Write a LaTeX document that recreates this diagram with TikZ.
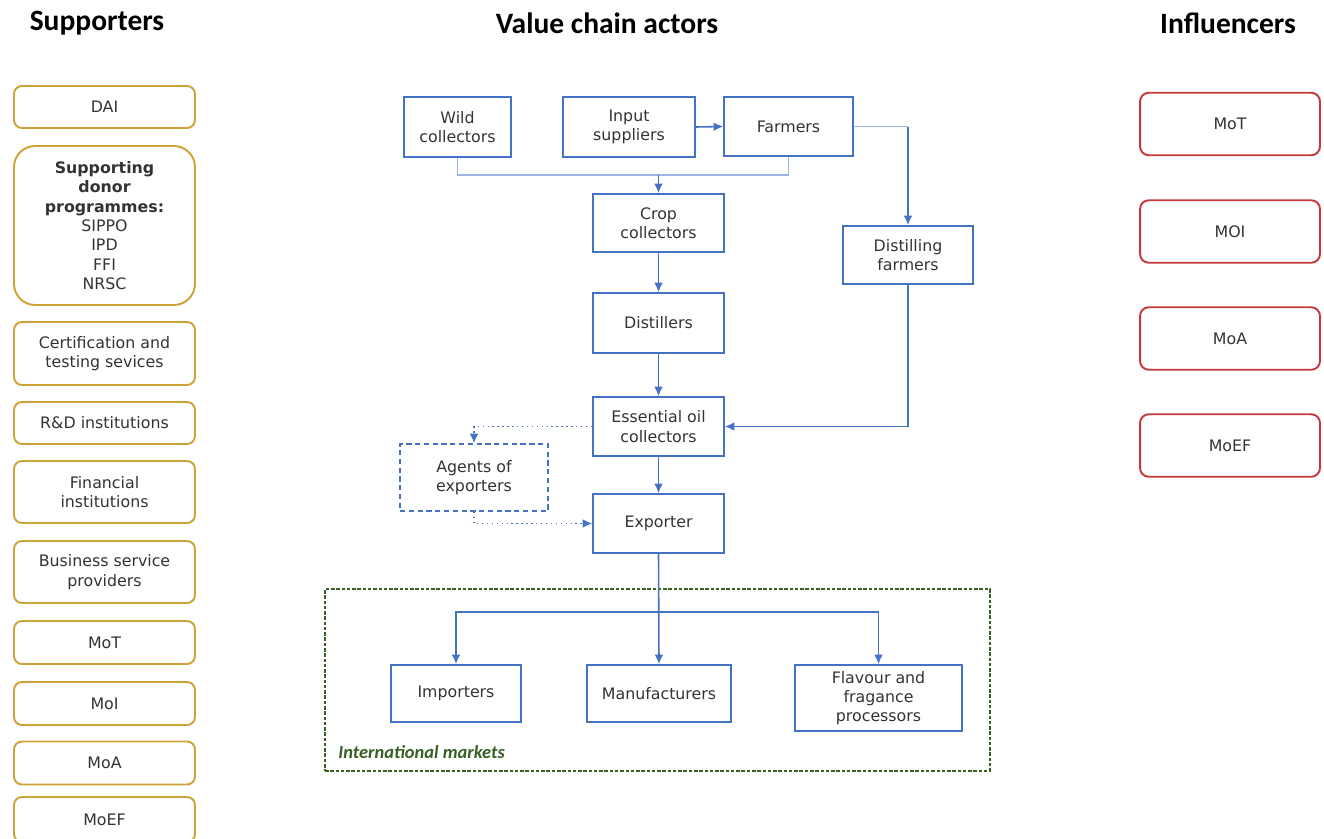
\documentclass[tikz,border=0pt]{standalone}
\usepackage{fontspec}
\setmainfont{DejaVu Sans}
\newfontfamily\headfont{Carlito}
\usepackage{xcolor}
\usepackage{tikz}
\usetikzlibrary{arrows, arrows.meta, positioning}
\definecolor{actorblue}{RGB}{68,114,196}
\definecolor{lightblue}{RGB}{155,181,227}
\definecolor{supgold}{RGB}{204,163,52}
\definecolor{inflred}{RGB}{196,58,60}
\definecolor{marketgreen}{RGB}{56,96,36}
\tikzset{
    titlenode/.style = {draw=none, fill=none, rectangle, inner sep=0em, font=\headfont\bfseries\fontsize{16.8}{20}\selectfont},
    supnode/.style = {draw=supgold, rectangle, rounded corners=0.45em, line width=1.1pt, minimum width=3.62cm, 
      inner sep=0.1cm, align=center, font=\fontsize{9}{11}\selectfont, text=black!80},
    inflnode/.style = {draw=inflred, rectangle, rounded corners=0.5em, line width=1.1pt, minimum width=3.6cm, 
      minimum height=1.25cm, align=center, font=\fontsize{9}{11}\selectfont, text=black!80},
    actornode/.style = {draw=actorblue, rectangle, line width=0.9pt, minimum width=2.62cm, minimum height=1.18cm, 
      inner sep=0.1cm, align=center, font=\fontsize{9}{11}\selectfont, text=black!80},
    agentnode/.style = {actornode, dashed, dash pattern=on 3pt off 2pt},
    marketbox/.style = {draw=marketgreen, rectangle, line width=0.8pt, dash pattern=on 2pt off 1pt, inner sep=0em},
    marketlabel/.style = {draw=none, fill=none, inner sep=0em, text=marketgreen, 
      font=\headfont\bfseries\itshape\fontsize{10.5}{12}\selectfont},
    connect/.style = {actorblue, line width=0.9pt, -{Latex[length=5.5pt, width=5pt]}},
    lightline/.style = {lightblue, line width=0.9pt},
    dotconnect/.style = {actorblue, line width=0.8pt, dotted, -{Latex[length=5.5pt, width=5pt]}}
}

\begin{document}
\begin{tikzpicture}[x=0.02cm, y=-0.02cm]
    \useasboundingbox (0,0) rectangle (1324,838);

    \node [titlenode, name=suptitle] at (97,23) {Supporters};
    \node [titlenode, name=vctitle] at (607,23) {Value chain actors};
    \node [titlenode, name=infltitle] at (1228,23) {Influencers};

    \node [supnode, name=dai, minimum height=0.84cm] at (104.5,107) {DAI};
    \node [supnode, name=donor, minimum height=3.18cm, rounded corners=1.2em] at (104.5,225.5) 
        {\textbf{Supporting}\\ \textbf{donor}\\ \textbf{programmes:}\\ SIPPO\\ IPD\\ FFI\\ NRSC};
    \node [supnode, name=certif, minimum height=1.26cm] at (104.5,353.5) {Certification and\\ testing sevices};
    \node [supnode, name=rnd, minimum height=0.84cm] at (104.5,423) {R\&D institutions};
    \node [supnode, name=financial, minimum height=1.24cm] at (104.5,492) {Financial\\ institutions};
    \node [supnode, name=business, minimum height=1.24cm] at (104.5,572) {Business service\\ providers};
    \node [supnode, name=supmot, minimum height=0.86cm] at (104.5,642.5) {MoT};
    \node [supnode, name=supmoi, minimum height=0.86cm] at (104.5,703.5) {MoI};
    \node [supnode, name=supmoa, minimum height=0.86cm] at (104.5,763) {MoA};
    \node [supnode, name=supmoef, minimum height=0.9cm] at (104.5,819.5) {MoEF};

    \node [inflnode, name=inflmot] at (1230,124) {MoT};
    \node [inflnode, name=inflmoi] at (1230,231.5) {MOI};
    \node [inflnode, name=inflmoa] at (1230,338.5) {MoA};
    \node [inflnode, name=inflmoef] at (1230,445.5) {MoEF};

    \node [marketbox, name=markets, minimum width=13.3cm, minimum height=3.64cm] at (657.5,680) {};
    \node [marketlabel, name=marketstext, anchor=west] at (338,752) {International markets};

    \node [actornode, name=wild, minimum width=2.14cm, minimum height=1.2cm] at (457.5,127) {Wild\\ collectors};
    \node [actornode, name=input, minimum width=2.64cm, minimum height=1.2cm] at (629,127) {Input\\ suppliers};
    \node [actornode, name=farmers, minimum width=2.58cm] at (788.5,126.5) {Farmers};
    \node [actornode, name=crop, minimum height=1.16cm] at (658.5,223) {Crop\\ collectors};
    \node [actornode, name=distil, minimum width=2.6cm, minimum height=1.16cm] at (908,255) {Distilling\\ farmers};
    \node [actornode, name=distillers, minimum height=1.2cm] at (658.5,323) {Distillers};
    \node [actornode, name=eoc] at (658.5,426.5) {Essential oil\\ collectors};
    \node [agentnode, name=agents, minimum width=2.96cm, minimum height=1.34cm] at (474,477.5) {Agents of\\ exporters};
    \node [actornode, name=exporter] at (658.5,523.5) {Exporter};
    \node [actornode, name=importers, minimum width=2.6cm, minimum height=1.14cm] at (456,693.5) {Importers};
    \node [actornode, name=manuf, minimum width=2.88cm, minimum height=1.14cm] at (659,693.5) {Manufacturers};
    \node [actornode, name=flavour, minimum width=3.34cm, minimum height=1.32cm] at (878.5,698) {Flavour and\\ fragance\\ processors};

    \coordinate (cropjoin) at (658.5,175);
    \coordinate (farmcorner) at (distil.north |- farmers.east);
    \coordinate (marketsplit) at (658.5,612);

    \draw[lightline] (wild.south) |- (cropjoin) -| (farmers.south);
    \draw[connect] (cropjoin) -- (crop.north);
    \draw[connect] (input.east) -- (farmers.west);
    \draw[lightline] (farmers.east) -- (farmcorner);
    \draw[connect] (farmcorner) -- (distil.north);
    \draw[connect] (crop.south) -- (distillers.north);
    \draw[connect] (distillers.south) -- (eoc.north);
    \draw[connect] (distil.south) |- (eoc.east);
    \draw[connect] (eoc.south) -- (exporter.north);
    \draw[dotconnect] (eoc.west) -| (agents.north);
    \draw[dotconnect] (agents.south) |- (exporter.west);
    \draw[connect] (exporter.south) -- (manuf.north);
    \draw[connect] (marketsplit) -| (importers.north);
    \draw[connect] (marketsplit) -| (flavour.north);
\end{tikzpicture}
\end{document}
